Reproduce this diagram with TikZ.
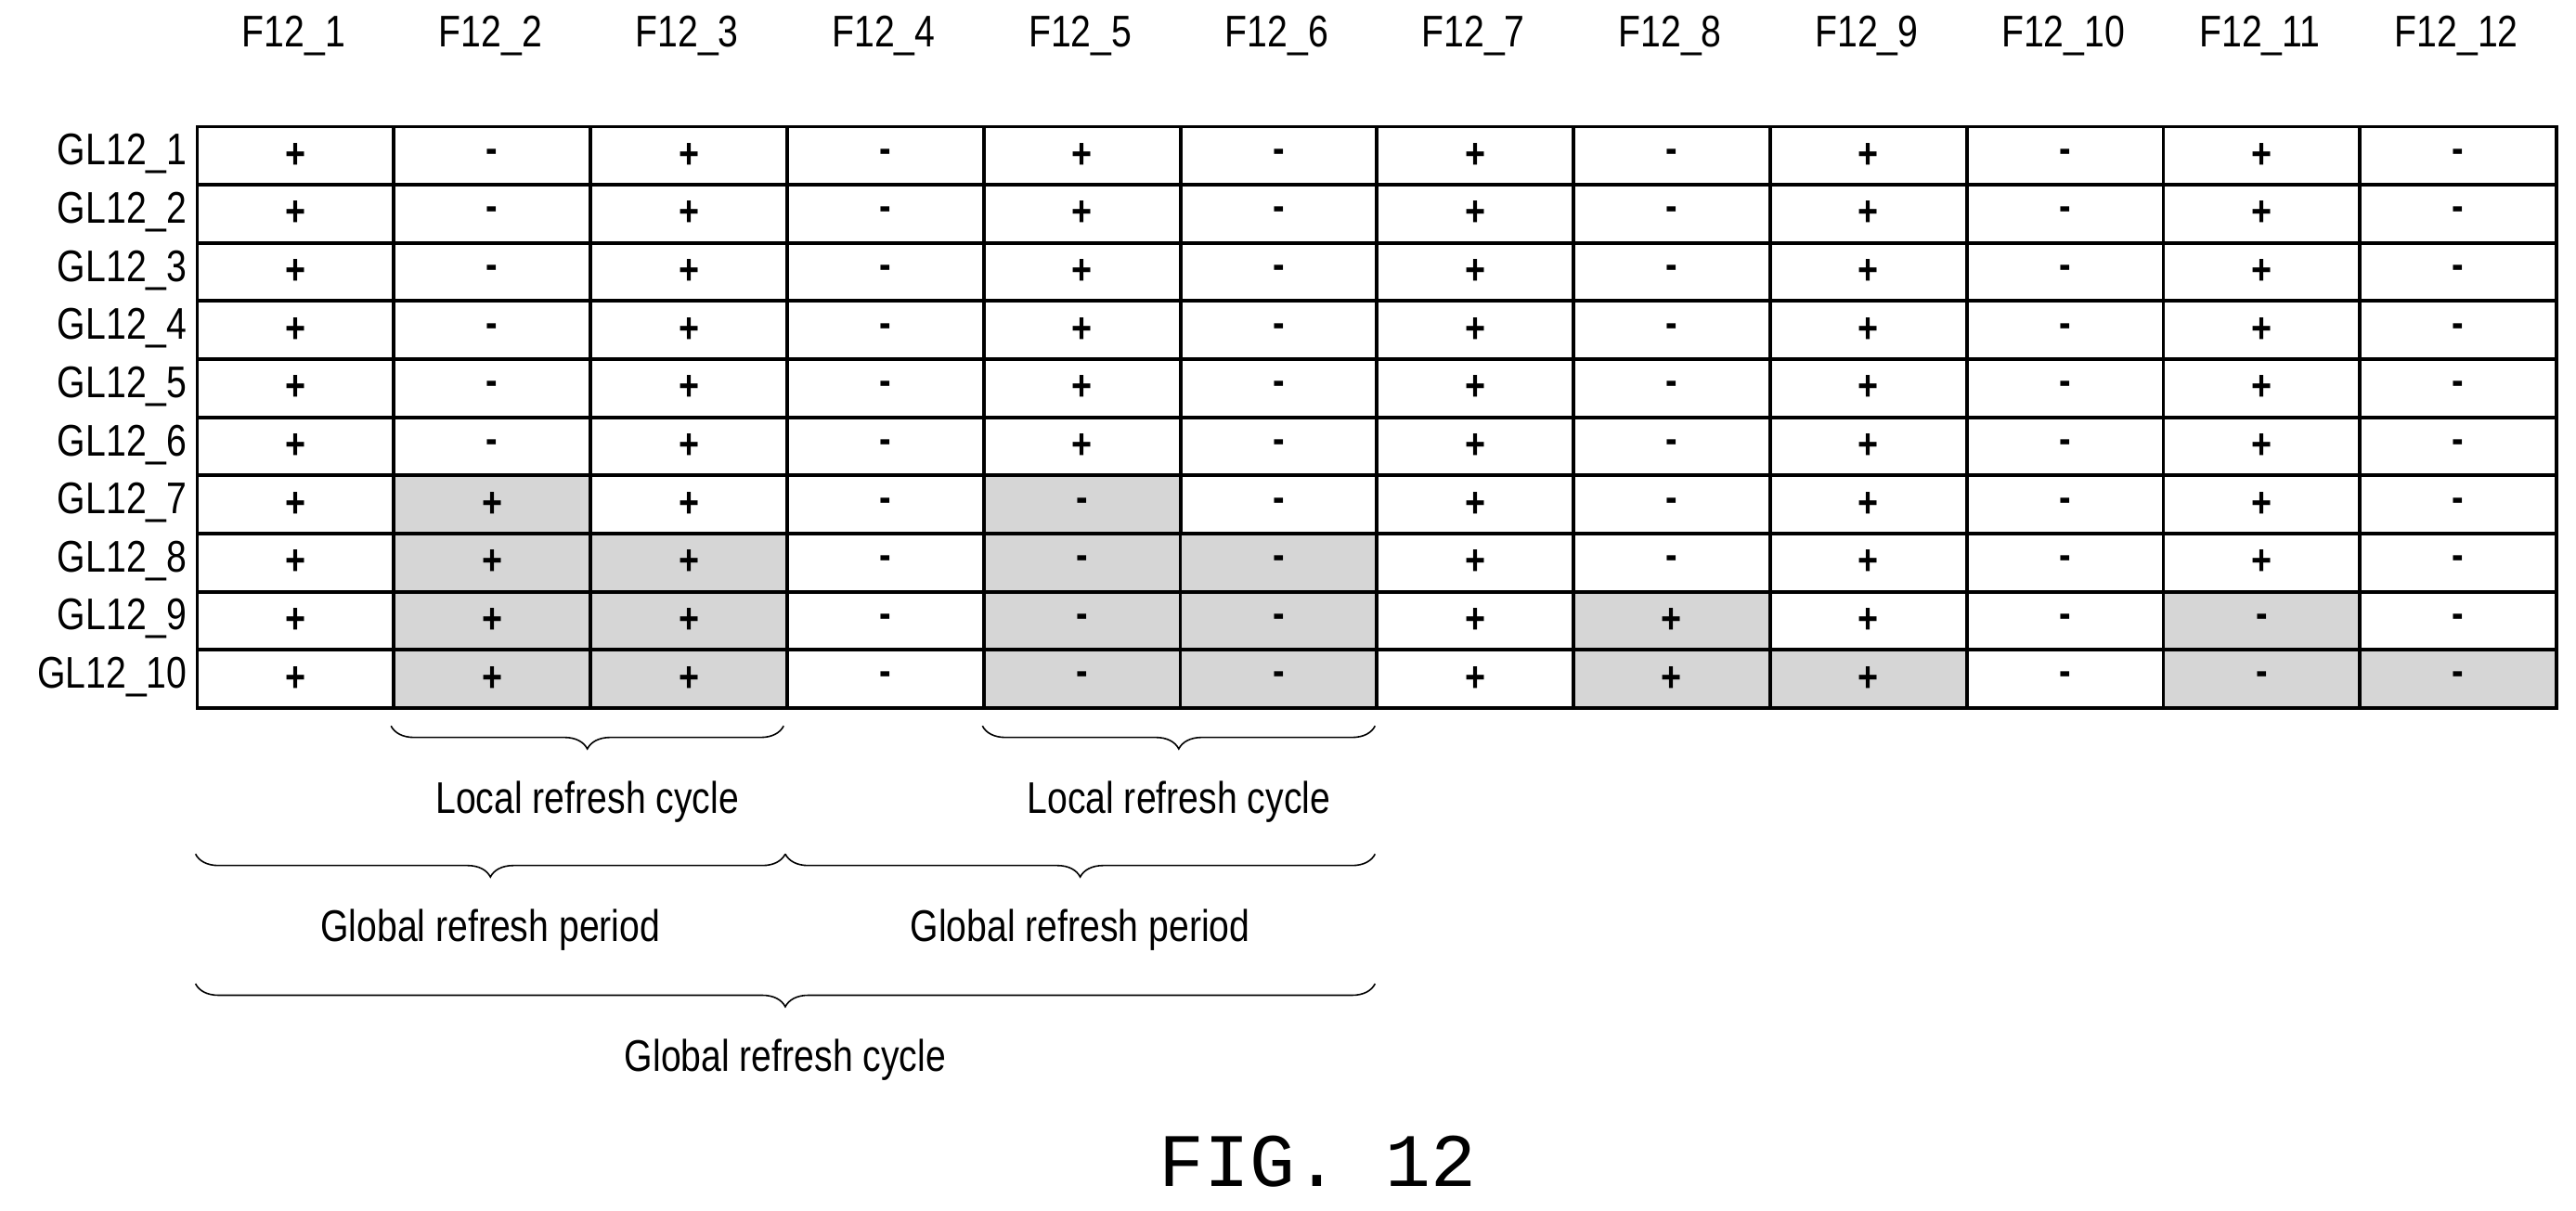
\documentclass[tikz,border=0pt]{standalone}
\usepackage{fontspec}
\setmainfont[FakeStretch=0.82]{Liberation Sans}
\newfontfamily\figfont{Liberation Mono}
\usetikzlibrary{decorations.pathreplacing}
\begin{document}
\begin{tikzpicture}[x=1pt,y=-1pt,
  cell/.style={draw=black,line width=2.2pt,minimum width=119.7pt,minimum height=35.4pt,inner sep=0pt,anchor=north west,font=\fontsize{26}{26}\selectfont\bfseries},
  shaded/.style={fill=black!16},
  hdr/.style={font=\fontsize{27}{27}\selectfont},
  lbl/.style={font=\fontsize{27}{27}\selectfont},
  bl/.style={font=\fontsize{27}{27}\selectfont},
  br/.style={decorate,decoration={brace,mirror,amplitude=14pt},line width=0.9pt}]
\useasboundingbox (0,0) rectangle (1568,737);
\def\cw{119.67}\def\rh{35.4}
\foreach \r in {1,...,10}{
  \foreach \c in {1,...,12}{
    \pgfmathtruncatemacro\odd{mod(\c,2)}
    \ifnum\odd=1 \def\v{+}\else\def\v{-}\fi
    \ifnum\c=8 \ifnum\r>8 \def\v{+}\fi\fi
    \ifnum\c=11 \ifnum\r>8 \def\v{-}\fi\fi
    \ifnum\c=2 \ifnum\r>6 \def\v{+}\fi\fi
    \ifnum\c=5 \ifnum\r>6 \def\v{-}\fi\fi
    \def\sh{}
    \ifnum\r>6 \ifnum\c=2 \def\sh{shaded}\fi\ifnum\c=5 \def\sh{shaded}\fi\fi
    \ifnum\r>7 \ifnum\c=3 \def\sh{shaded}\fi\ifnum\c=6 \def\sh{shaded}\fi\fi
    \ifnum\r>8 \ifnum\c=8 \def\sh{shaded}\fi\ifnum\c=11 \def\sh{shaded}\fi\fi
    \ifnum\r=10 \ifnum\c=9 \def\sh{shaded}\fi\ifnum\c=12 \def\sh{shaded}\fi\fi
    \node[cell,\sh] (c\r-\c) at ({119+(\c-1)*\cw},{76+(\r-1)*\rh}) {\v};
  }
  \node[lbl,anchor=east,inner sep=2pt] (g\r) at (116,{76+(\r-0.5)*\rh}) {GL12\_\r};
}
\foreach \c in {1,...,12}
  \node[hdr] (f\c) at ({119+(\c-0.5)*\cw},22) {F12\_\c};
\coordinate (a1) at (238,442); \coordinate (a2) at (477,442);
\coordinate (a3) at (598,442); \coordinate (a4) at (837,442);
\draw[br] (a1) -- (a2) node[midway,below=30pt,bl] (l1) {Local refresh cycle};
\draw[br] (a3) -- (a4) node[midway,below=30pt,bl] (l2) {Local refresh cycle};
\coordinate (b1) at (119,520); \coordinate (b2) at (478,520); \coordinate (b3) at (837,520);
\draw[br] (b1) -- (b2) node[midway,below=30pt,bl] (p1) {Global refresh period};
\draw[br] (b2) -- (b3) node[midway,below=30pt,bl] (p2) {Global refresh period};
\coordinate (d1) at (119,599); \coordinate (d2) at (837,599);
\draw[br] (d1) -- (d2) node[midway,below=30pt,bl] (cy) {Global refresh cycle};
\node[font=\figfont\fontsize{46}{46}\selectfont] (fig) at (802,707) {FIG. 12};
\end{tikzpicture}
\end{document}
